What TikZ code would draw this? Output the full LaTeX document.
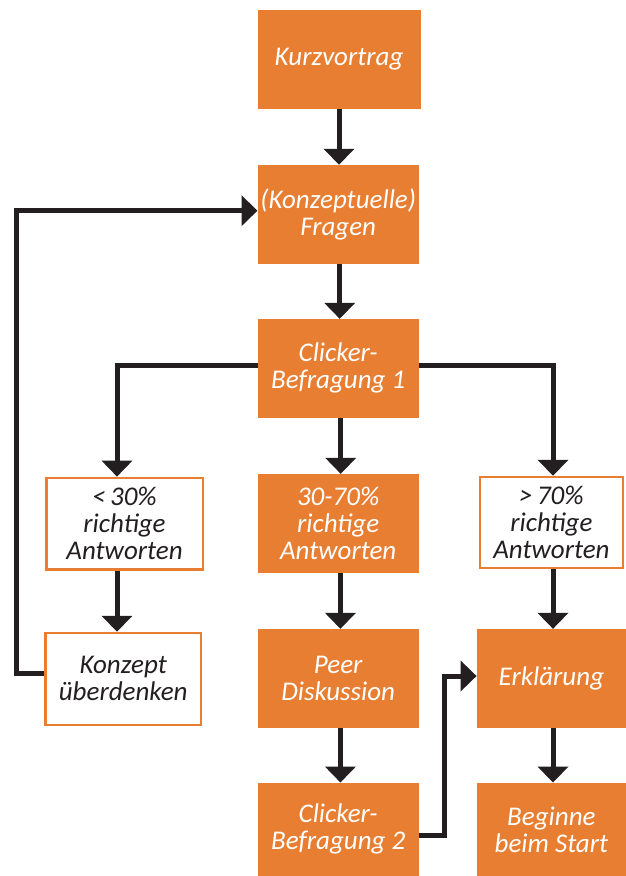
\documentclass[tikz,border=0pt]{standalone}
\usepackage{fontspec}
\setmainfont{Carlito}
\usetikzlibrary{arrows.meta}
\definecolor{orng}{HTML}{E87E31}
\definecolor{ink}{HTML}{231F20}
\begin{document}
\begin{tikzpicture}[x=1pt,y=-1pt,
  box/.style={inner sep=0pt, align=center, font=\fontsize{27}{27}\selectfont\itshape},
  fillbox/.style={box, fill=orng, text=white},
  linebox/.style={box, draw=orng, line width=2.5pt, text=ink, fill=white},
  arr/.style={draw=ink, line width=5pt, line join=miter, -{Triangle[width=30pt,length=16pt]}}]
\useasboundingbox (0,0) rectangle (626,876);
\node[fillbox, minimum width=163pt, minimum height=98.7pt] (kurz) at (339,59.4) {Kurzvortrag};
\node[fillbox, minimum width=161pt, minimum height=98.7pt] (fragen) at (338.2,214.3) {(Konzeptuelle)\\Fragen};
\node[fillbox, minimum width=161pt, minimum height=98.7pt] (click1) at (338.2,368.4) {Clicker-\\Befragung 1};
\node[linebox, minimum width=156.5pt, minimum height=91.8pt] (low) at (124.5,523.8) {<\,30\%\\richtige\\Antworten};
\node[fillbox, minimum width=161pt, minimum height=98.7pt] (mid) at (338.2,523.4) {30-70\%\\richtige\\Antworten};
\node[linebox, minimum width=142.7pt, minimum height=90.8pt] (high) at (551.4,522.4) {>\,70\%\\richtige\\Antworten};
\node[linebox, minimum width=155.9pt, minimum height=91.8pt] (konzept) at (123.2,678.9) {Konzept\\überdenken};
\node[fillbox, minimum width=161pt, minimum height=98.7pt] (peer) at (338.2,678.4) {Peer\\Diskussion};
\node[fillbox, minimum width=161pt, minimum height=93.3pt] (click2) at (338.2,829.4) {Clicker-\\Befragung 2};
\node[fillbox, minimum width=149.2pt, minimum height=98.7pt] (erkl) at (551.4,678.4) {Erklärung};
\node[fillbox, minimum width=149.2pt, minimum height=93.3pt] (beg) at (551.4,829.4) {Beginne\\beim Start};
\coordinate (looptop) at (16,210.7);
\coordinate (jogtop) at (444.8,676);
\draw[arr] (kurz.south) -- (kurz.south |- fragen.north);
\draw[arr] ([xshift=1.5pt]fragen.south) -- ([xshift=1.5pt]click1.north);
\draw[arr] ([yshift=3.4pt]click1.west) -| ([xshift=-7.5pt]low.north);
\draw[arr] ([xshift=2.5pt]click1.south) -- ([xshift=2.5pt]mid.north);
\draw[arr] ([yshift=3.4pt]click1.east) -| ([xshift=1.6pt]high.north);
\draw[arr] ([xshift=-7.5pt]low.south) -- ([xshift=-6.2pt]konzept.north);
\draw[arr] ([yshift=5.9pt]konzept.west) -| (looptop) -- (looptop -| fragen.west);
\draw[arr] ([xshift=2.2pt]mid.south) -- ([xshift=2.2pt]peer.north);
\draw[arr] ([xshift=2.2pt]peer.south) -- ([xshift=2.2pt]click2.north);
\draw[arr] ([yshift=-6.3pt]click2.east) -| (jogtop) -- (jogtop -| erkl.west);
\draw[arr] ([xshift=1.6pt]high.south) -- ([xshift=1.6pt]erkl.north);
\draw[arr] ([xshift=1.6pt]erkl.south) -- ([xshift=1.6pt]beg.north);
\end{tikzpicture}
\end{document}
